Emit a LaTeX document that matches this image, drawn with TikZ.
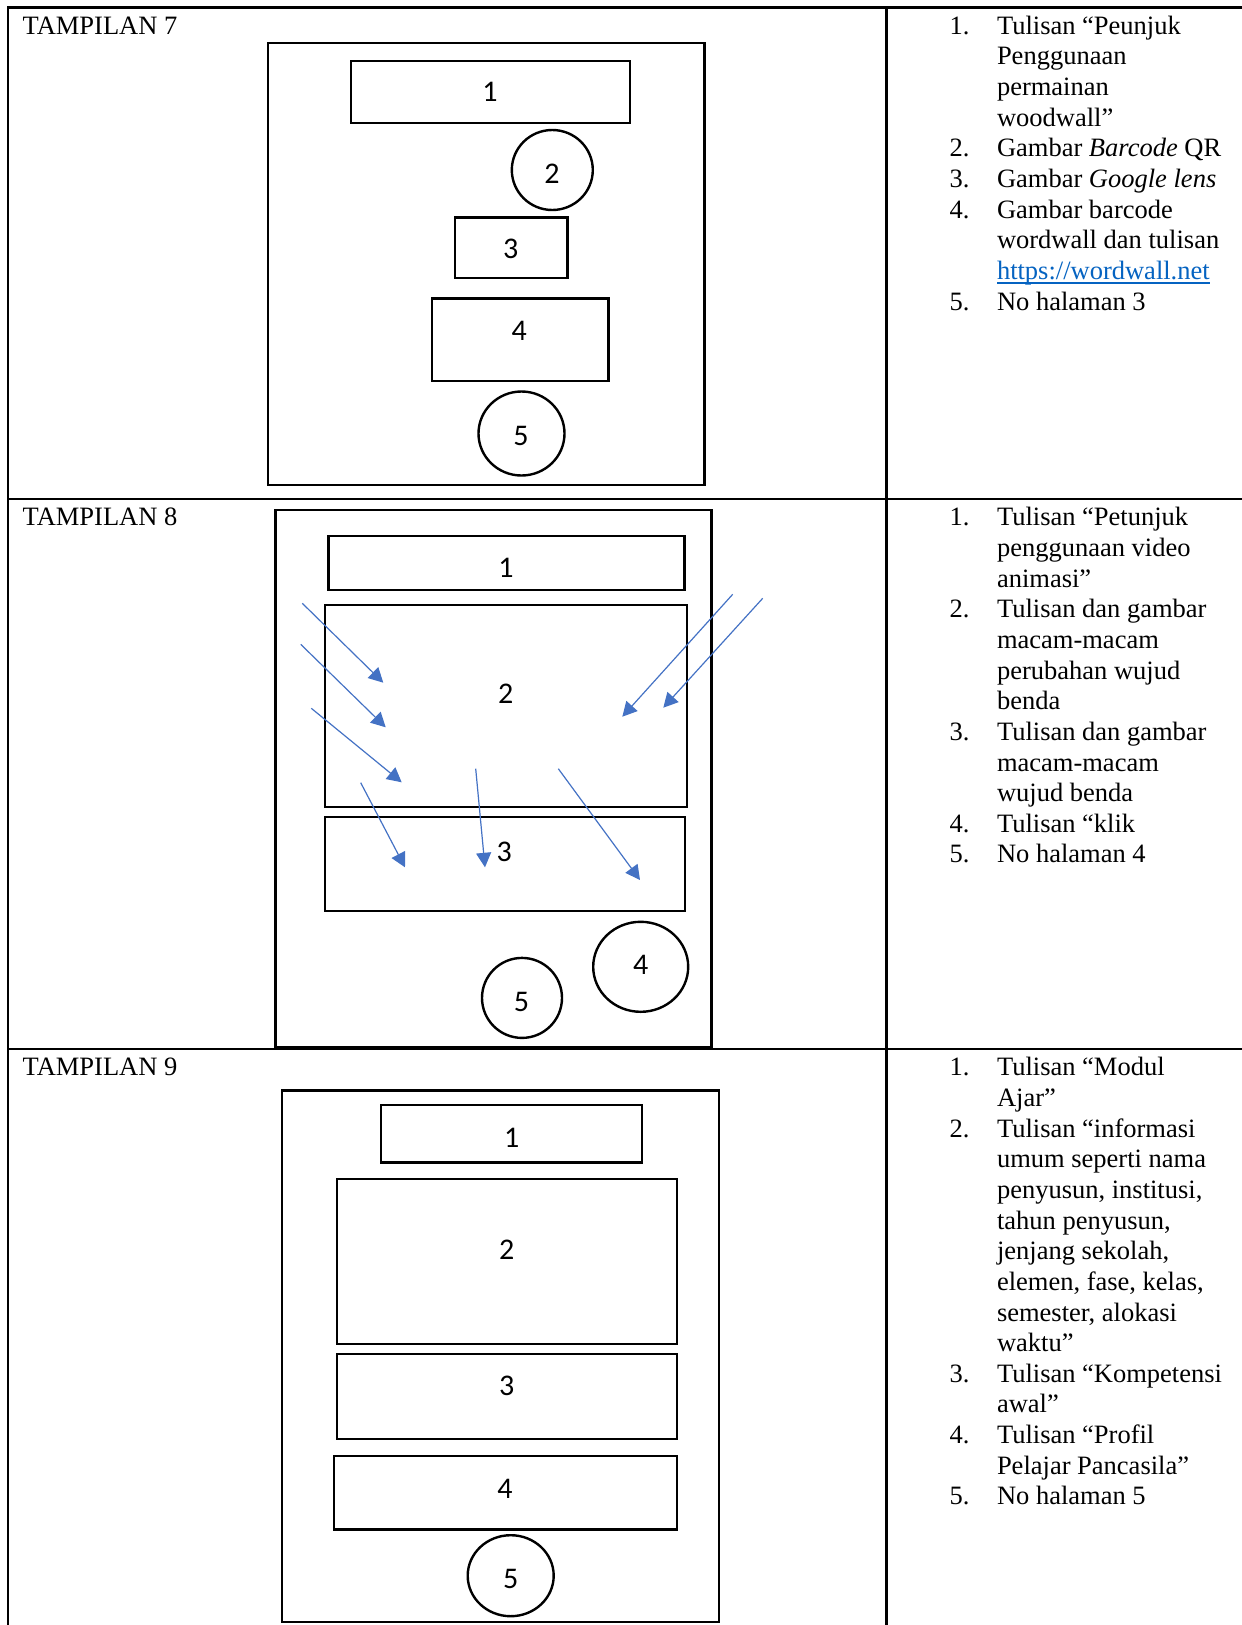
\documentclass[tikz,border=0pt]{standalone}
\usepackage{fontspec}
\setmainfont{Liberation Serif}
\newfontfamily\digitfont{Carlito}
\usetikzlibrary{arrows.meta}
\definecolor{arrowblue}{HTML}{4472C4}
\definecolor{linkblue}{HTML}{0563C1}
% stacked lines whose baseline is the first line
\newcommand\itemtext[1]{\vtop{\baselineskip=30.65pt\relax\lineskiplimit=-100pt\relax #1}}
\newcommand\textline[1]{\hbox{#1}}
% underlined hyperlink text, rule drawn through descenders
\newcommand\weblink[1]{\setbox0=\hbox{#1}\rlap{\rule[-4.2pt]{\wd0}{1.6pt}}\box0}
\begin{document}
\begin{tikzpicture}[x=1pt,y=-1pt,
  every node/.style={inner sep=0pt,outer sep=0pt},
  grid/.style={line width=2.3pt,black},
  part/.style={line width=2.4pt,black},
  num/.style={font=\digitfont\fontsize{30}{32}\selectfont},
  body/.style={font=\fontsize{26.5}{30.65}\selectfont,anchor=base west},
  pointer/.style={arrowblue,line width=1.2pt,-{Triangle[length=14.5pt,width=15pt]}}]
\useasboundingbox (0,0) rectangle (1242,1625);

% table rules
\draw[grid] (1242,7.5) -- (8,7.5) -- (8,1625);
\draw[grid] (886.5,7.5) -- (886.5,1625);
\draw[grid] (8,499) -- (1242,499);
\draw[grid] (8,1049) -- (1242,1049);

% row titles
\node[body] (title7) at (22.7,34.3) {TAMPILAN 7};
\node[body] (title8) at (22.7,525.8) {TAMPILAN 8};
\node[body] (title9) at (22.7,1075.8) {TAMPILAN 9};

% ---------- screen 7 ----------
\draw[part] (268,42.7) rectangle (704.5,485);
\draw[part] (351,60.7) rectangle (630,122.7);
\draw[part] (552.3,170) ellipse [x radius=40.5,y radius=40];
\draw[part] (455,217.3) rectangle (567.3,277.7);
\draw[part] (431.7,298.3) rectangle (608.3,380.7);
\draw[part] (521.5,433.5) ellipse [x radius=43,y radius=42];
\node[num] (s7a) at (490,92) {1};
\node[num] (s7b) at (552,174) {2};
\node[num] (s7c) at (510.7,249) {3};
\node[num] (s7d) at (519.3,331) {4};
\node[num] (s7e) at (521,436) {5};

% ---------- screen 8 ----------
\draw[part] (275.5,510) rectangle (711.5,1047);
\draw[part] (328.5,536) rectangle (684.3,590);
\draw[part] (325,605) rectangle (686.7,806.7);
\draw[part] (325,816.7) rectangle (685,911);
\draw[part] (640.7,966.8) ellipse [x radius=47.5,y radius=45];
\draw[part] (522,997.9) ellipse [x radius=40,y radius=40];
\node[num] (s8a) at (506,568) {1};
\node[num] (s8b) at (505.7,693.3) {2};
\node[num] (s8c) at (504.3,851.7) {3};
\node[num] (s8d) at (640.7,965) {4};
\node[num] (s8e) at (521.5,1001.5) {5};

% motion arrows
\foreach \n/\ax/\ay/\bx/\by in {
  1/302.3/603.3/383.3/682.7,
  2/300.7/644.3/385.7/727.3,
  3/311.3/708.3/401.7/782.3,
  4/360.7/782.7/405/867.3,
  5/475.7/768.7/485/867.3,
  6/558.3/768.7/640/880,
  7/732.7/594.3/622.3/716.7,
  8/762.7/598.3/663.3/707.7}{
  \coordinate (m\n s) at (\ax,\ay);
  \coordinate (m\n e) at (\bx,\by);
  \draw[pointer] (m\n s) -- (m\n e);
}

% ---------- screen 9 ----------
\draw[part] (282,1090.4) rectangle (719,1622);
\draw[part] (380.7,1105) rectangle (642,1162.4);
\draw[part] (337,1178.7) rectangle (676.7,1344.2);
\draw[part] (337,1353.9) rectangle (676.7,1439);
\draw[part] (334,1456) rectangle (676.7,1529.4);
\draw[part] (510.7,1575.7) ellipse [x radius=43,y radius=40.5];
\node[num] (s9a) at (511.7,1137.4) {1};
\node[num] (s9b) at (506.7,1249.3) {2};
\node[num] (s9c) at (506.7,1385.9) {3};
\node[num] (s9d) at (505,1488.4) {4};
\node[num] (s9e) at (510.7,1578.8) {5};

% ---------- descriptions, screen 7 ----------
\node[body] (d7n1) at (949.5,34.3) {1.};
\node[body] (d7t1) at (997,34.3) {\itemtext{\textline{Tulisan “Peunjuk}\textline{Penggunaan}\textline{permainan}\textline{woodwall”}}};
\node[body] (d7n2) at (949.5,{34.3+30.65*4}) {2.};
\node[body] (d7t2) at (997,{34.3+30.65*4}) {Gambar \textit{Barcode} QR};
\node[body] (d7n3) at (949.5,{34.3+30.65*5}) {3.};
\node[body] (d7t3) at (997,{34.3+30.65*5}) {Gambar \textit{Google lens}};
\node[body] (d7n4) at (949.5,{34.3+30.65*6}) {4.};
\node[body] (d7t4) at (997,{34.3+30.65*6}) {\itemtext{\textline{Gambar barcode}\textline{wordwall dan tulisan}\textline{\color{linkblue}\weblink{https://wordwall.net}}}};
\node[body] (d7n5) at (949.5,{34.3+30.65*9}) {5.};
\node[body] (d7t5) at (997,{34.3+30.65*9}) {No halaman 3};

% ---------- descriptions, screen 8 ----------
\node[body] (d8n1) at (949.5,525.8) {1.};
\node[body] (d8t1) at (997,525.8) {\itemtext{\textline{Tulisan “Petunjuk}\textline{penggunaan video}\textline{animasi”}}};
\node[body] (d8n2) at (949.5,{525.8+30.65*3}) {2.};
\node[body] (d8t2) at (997,{525.8+30.65*3}) {\itemtext{\textline{Tulisan dan gambar}\textline{macam-macam}\textline{perubahan wujud}\textline{benda}}};
\node[body] (d8n3) at (949.5,{525.8+30.65*7}) {3.};
\node[body] (d8t3) at (997,{525.8+30.65*7}) {\itemtext{\textline{Tulisan dan gambar}\textline{macam-macam}\textline{wujud benda}}};
\node[body] (d8n4) at (949.5,{525.8+30.65*10}) {4.};
\node[body] (d8t4) at (997,{525.8+30.65*10}) {Tulisan “klik};
\node[body] (d8n5) at (949.5,{525.8+30.65*11}) {5.};
\node[body] (d8t5) at (997,{525.8+30.65*11}) {No halaman 4};

% ---------- descriptions, screen 9 ----------
\node[body] (d9n1) at (949.5,1075.8) {1.};
\node[body] (d9t1) at (997,1075.8) {\itemtext{\textline{Tulisan “Modul}\textline{Ajar”}}};
\node[body] (d9n2) at (949.5,{1075.8+30.65*2}) {2.};
\node[body] (d9t2) at (997,{1075.8+30.65*2}) {\itemtext{\textline{Tulisan “informasi}\textline{umum seperti nama}\textline{penyusun, institusi,}\textline{tahun penyusun,}\textline{jenjang sekolah,}\textline{elemen, fase, kelas,}\textline{semester, alokasi}\textline{waktu”}}};
\node[body] (d9n3) at (949.5,{1075.8+30.65*10}) {3.};
\node[body] (d9t3) at (997,{1075.8+30.65*10}) {\itemtext{\textline{Tulisan “Kompetensi}\textline{awal”}}};
\node[body] (d9n4) at (949.5,{1075.8+30.65*12}) {4.};
\node[body] (d9t4) at (997,{1075.8+30.65*12}) {\itemtext{\textline{Tulisan “Profil}\textline{Pelajar Pancasila”}}};
\node[body] (d9n5) at (949.5,{1075.8+30.65*14}) {5.};
\node[body] (d9t5) at (997,{1075.8+30.65*14}) {No halaman 5};
\end{tikzpicture}
\end{document}
